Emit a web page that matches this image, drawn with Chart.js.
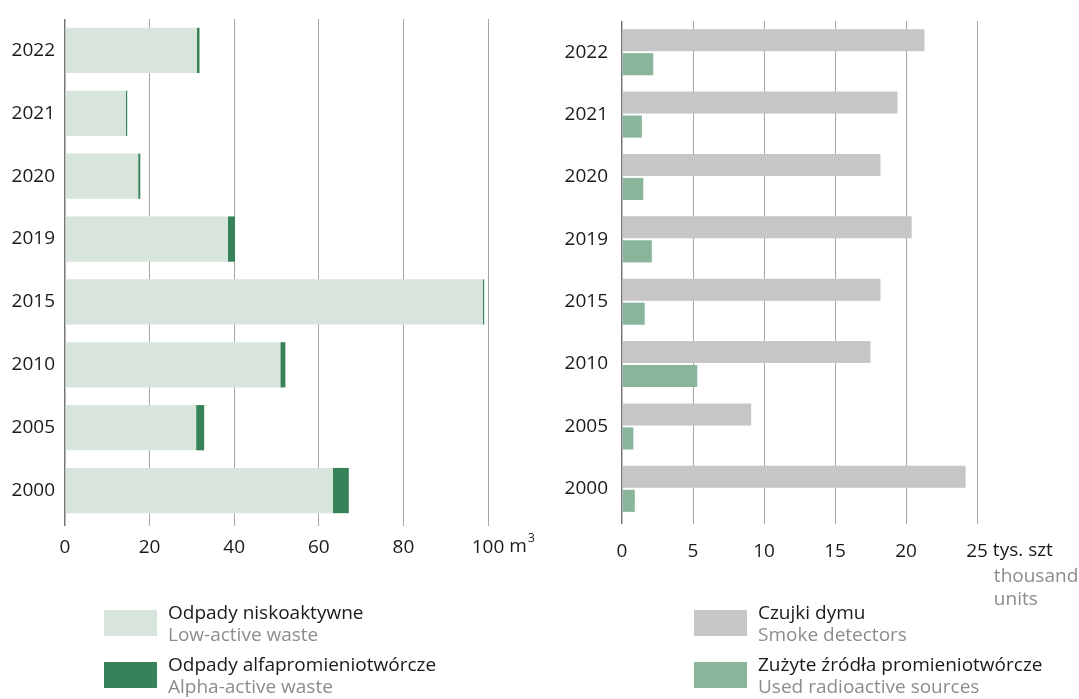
<!DOCTYPE html>
<html>
<head>
<meta charset="utf-8">
<script src="https://cdn.jsdelivr.net/npm/chart.js@4"></script>
<style>
  body { margin: 0; background: #fff; font-family: "Open Sans", sans-serif; }
  #wrap { position: relative; width: 1079px; height: 699px; overflow: hidden; }
  .chart { position: absolute; top: 0; }
  .legend { position: absolute; }
  .item { position: relative; height: 52px; }
  .box { position: absolute; left: 0; width: 53px; height: 26px; }
  .txt { position: absolute; left: 64px; top: -9px; font-size: 19px; line-height: 22px; color: #1a1a1a; white-space: nowrap; }
  .txt span { color: #8c8c8c; display: block; }
</style>
</head>
<body>
<div id="wrap">
  <div class="chart" style="left:0; width:540px; height:620px;"><canvas id="left"></canvas></div>
  <div class="chart" style="left:560px; width:519px; height:620px;"><canvas id="right"></canvas></div>

  <div class="legend" style="left:104px; top:610px;">
    <div class="item"><div class="box" style="background:#d7e5dc"></div><div class="txt">Odpady niskoaktywne<span>Low-active waste</span></div></div>
    <div class="item"><div class="box" style="background:#38825a"></div><div class="txt">Odpady alfapromieniotwórcze<span>Alpha-active waste</span></div></div>
  </div>
  <div class="legend" style="left:694px; top:610px;">
    <div class="item"><div class="box" style="background:#c6c6c6"></div><div class="txt">Czujki dymu<span>Smoke detectors</span></div></div>
    <div class="item"><div class="box" style="background:#88b59b"></div><div class="txt">Zużyte źródła promieniotwórcze<span>Used radioactive sources</span></div></div>
  </div>
</div>

<script>
const years = ['2022', '2021', '2020', '2019', '2015', '2010', '2005', '2000'];

// m3
const lowActive = [31.2, 14.4, 17.3, 38.5, 98.8, 50.9, 31.0, 63.3];
const alphaActive = [0.6, 0.3, 0.5, 1.7, 0.3, 1.2, 1.9, 3.8];

// thousand units
const smokeDetectors = [21.3, 19.4, 18.2, 20.4, 18.2, 17.5, 9.1, 24.2];
const usedSources = [2.2, 1.4, 1.5, 2.1, 1.6, 5.3, 0.8, 0.9];

const leftTicks = [0, 20, 40, 60, 80, 100];
const rightTicks = [0, 5, 10, 15, 20, 25];

const FONT = '"Open Sans", sans-serif';
const SIZE = 19;
Chart.defaults.font.family = FONT;
Chart.defaults.color = '#1a1a1a';

// draws the unit text after the last tick label of the x axis
const unitPlugin = {
  id: 'unit',
  afterDraw(chart, args, opts) {
    const ctx = chart.ctx;
    const x = chart.scales.x;
    const px = x.getPixelForValue(x.max);
    const y = x.top + opts.dy;
    ctx.save();
    ctx.font = SIZE + 'px ' + FONT;
    ctx.textBaseline = 'middle';
    ctx.textAlign = 'left';
    ctx.fillStyle = '#1a1a1a';
    const w = ctx.measureText(String(x.max)).width / 2 + 5;
    ctx.fillText(opts.text, px + w, y);
    if (opts.sup) {
      const w2 = ctx.measureText(opts.text).width;
      ctx.font = '12px ' + FONT;
      ctx.fillText(opts.sup, px + w + w2 + 1, y - 8);
    }
    if (opts.sub) {
      ctx.font = SIZE + 'px ' + FONT;
      ctx.fillStyle = '#8c8c8c';
      opts.sub.forEach((s, i) => ctx.fillText(s, px + w + 1, y + 26 + i * 23));
    }
    ctx.restore();
  }
};

function xScale(ticks, bottom, pad) {
  return {
    min: 0,
    max: ticks[ticks.length - 1],
    afterBuildTicks: (s) => { s.ticks = ticks.map(v => ({ value: v })); },
    afterFit: (s) => { s.height = 620 - bottom; },
    border: { display: false },
    grid: {
      color: (c) => c.tick && c.tick.value === 0 ? '#777' : '#a6a6a6',
      lineWidth: (c) => c.tick && c.tick.value === 0 ? 1.5 : 1,
      tickLength: 4
    },
    ticks: { font: { size: SIZE }, padding: pad, maxRotation: 0 }
  };
}

// label gap done with tickLength so it doesn't push the chart area down
function yScale(width, gap) {
  return {
    afterFit: (s) => { s.width = width; },
    border: { display: false },
    grid: { display: false, drawTicks: true, tickLength: gap },
    ticks: { font: { size: SIZE }, padding: 0 }
  };
}

new Chart(document.getElementById('left'), {
  type: 'bar',
  data: {
    labels: years,
    datasets: [
      { label: 'Odpady niskoaktywne', data: lowActive, backgroundColor: '#d7e5dc', barPercentage: 0.72, categoryPercentage: 1 },
      { label: 'Odpady alfapromieniotwórcze', data: alphaActive, backgroundColor: '#38825a', barPercentage: 0.72, categoryPercentage: 1 }
    ]
  },
  options: {
    indexAxis: 'y',
    responsive: true,
    maintainAspectRatio: false,
    animation: false,
    layout: { padding: { top: 19, right: 52, left: 0, bottom: 0 } },
    plugins: {
      legend: { display: false },
      tooltip: { enabled: false },
      unit: { text: 'm', sup: '3', dy: 25 }
    },
    scales: {
      x: Object.assign(xScale(leftTicks, 522, 10), { stacked: true }),
      y: Object.assign(yScale(65, 10), { stacked: true })
    }
  },
  plugins: [unitPlugin]
});

new Chart(document.getElementById('right'), {
  type: 'bar',
  data: {
    labels: years,
    datasets: [
      { label: 'Czujki dymu', data: smokeDetectors, backgroundColor: '#c6c6c6', barPercentage: 0.92, categoryPercentage: 0.77 },
      { label: 'Zużyte źródła promieniotwórcze', data: usedSources, backgroundColor: '#88b59b', barPercentage: 0.92, categoryPercentage: 0.77 }
    ]
  },
  options: {
    indexAxis: 'y',
    responsive: true,
    maintainAspectRatio: false,
    animation: false,
    layout: { padding: { top: 21, right: 102, left: 0, bottom: 0 } },
    plugins: {
      legend: { display: false },
      tooltip: { enabled: false },
      unit: { text: 'tys. szt', sub: ['thousand', 'units'], dy: 31 }
    },
    scales: {
      x: xScale(rightTicks, 520, 16),
      y: yScale(62, 14)
    }
  },
  plugins: [unitPlugin]
});
</script>
</body>
</html>
